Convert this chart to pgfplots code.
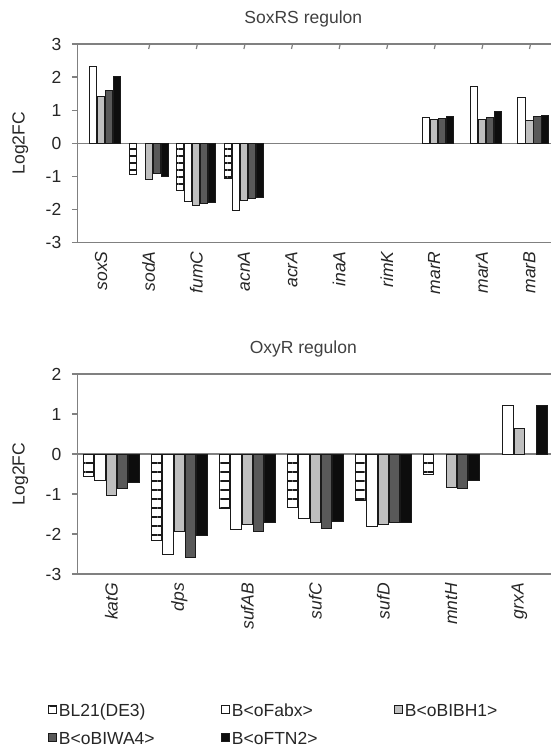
\documentclass[border=0pt]{standalone}
\usepackage{fontspec}
\setmainfont{Liberation Sans}
\usepackage{pgfplots}
\pgfplotsset{compat=1.18}
\usetikzlibrary{patterns.meta}
\definecolor{axisgray}{HTML}{808080}
\definecolor{lgray}{HTML}{BFBFBF}
\definecolor{dgray}{HTML}{595959}
\definecolor{blk}{HTML}{0D0D0D}
\definecolor{edge}{HTML}{1A1A1A}
\definecolor{txt}{HTML}{262626}
\definecolor{ttl}{HTML}{404040}
\newcommand\F{\fontsize{17.5bp}{21bp}\selectfont}
\pgfplotsset{
 mystyle/.style={
  scale only axis, width=476bp,
  ybar, bar width=0.15,
  xmin=-0.5,
  axis x line=box, axis y line*=left,
  axis line style={axisgray, line width=1.2bp},
  xtick style={draw=none},
  xticklabel pos=lower,
  ytick style={axisgray, line width=1.2bp},
  tick align=outside, major tick length=5.5bp,
  ticklabel style={font=\F, text=txt},
  xticklabel style={rotate=90, anchor=east, font=\F\itshape},
  yticklabel style={xshift=-7bp},
  extra y ticks={0}, extra y tick labels={},
  extra y tick style={grid=major, major grid style={axisgray, line width=1.2bp}, major tick length=0pt},
  every axis y label/.style={at={(rel axis cs:0,0.5)}, xshift=-57bp, rotate=90, anchor=center, font=\F, text=txt},
  every axis title/.style={at={(rel axis cs:0.5,1)}, yshift=25bp, xshift=-12bp, anchor=center, font=\F, text=ttl},
  ylabel={Log2FC},
  legend image code/.code={\draw[##1] (0bp,-1.5bp) rectangle (8bp,6.5bp);},
 },
 sBL/.style={draw=edge, line width=1bp, pattern={Lines[angle=0,distance=#1,line width=1.2bp]}, pattern color=edge, bar shift=-0.334},
 sFA/.style={draw=edge, line width=1bp, fill=white, bar shift=-0.167},
 sBI/.style={draw=edge, line width=1bp, fill=lgray, bar shift=0},
 sWA/.style={draw=edge, line width=1bp, fill=dgray, bar shift=0.167},
 sFT/.style={draw=edge, line width=1bp, fill=blk, bar shift=0.334},
}
\begin{document}
\begin{tikzpicture}
% ---------- SoxRS regulon ----------
\begin{axis}[mystyle,
  at={(77.3bp,508.5bp)}, anchor=south west,
  height=198.5bp, xmax=9.5,
  ymin=-3, ymax=3, ytick={-3,-2,-1,0,1,2,3},
  yticklabels={-3,-2,-1,0,1,2,3},
  xtick={0,...,9},
  xticklabels={soxS,sodA,fumC,acnA,acrA,inaA,rimK,marR,marA,marB},
  title={SoxRS regulon}]
\addplot[sBL=7bp] coordinates {(1,-0.95) (2,-1.42) (3,-1.06)};
\addplot[sFA] coordinates {(0,2.33) (2,-1.75) (3,-2.03) (7,0.79) (8,1.73) (9,1.39)};
\addplot[sBI] coordinates {(0,1.41) (1,-1.10) (2,-1.87) (3,-1.74) (7,0.72) (8,0.73) (9,0.69)};
\addplot[sWA] coordinates {(0,1.60) (1,-0.90) (2,-1.82) (3,-1.68) (7,0.74) (8,0.79) (9,0.80)};
\addplot[sFT] coordinates {(0,2.01) (1,-1.00) (2,-1.80) (3,-1.64) (7,0.80) (8,0.95) (9,0.83)};
\pgfplotsinvokeforeach{0.5,1.5,...,8.5}{\draw[axisgray,line width=1.2bp] (axis cs:#1,0) ++(0,-5bp) -- ++(0,10bp);}
\end{axis}
% ---------- OxyR regulon ----------
\begin{axis}[mystyle,
  at={(77.3bp,177bp)}, anchor=south west,
  height=200bp, xmax=6.5,
  ymin=-3, ymax=2, ytick={-3,-2,-1,0,1,2},
  yticklabels={-3,-2,-1,0,1,2},
  xtick={0,...,6},
  xticklabels={katG,dps,sufAB,sufC,sufD,mntH,grxA},
  title={OxyR regulon},
  legend columns=3,
  legend style={at={(-0.0616,-0.6475)}, anchor=north west, draw=none, fill=none,
    inner sep=0pt, outer sep=0pt, row sep=10.5bp,
    nodes={inner sep=0pt, text height=13bp, text depth=4.5bp, font=\F, text=txt},
    /tikz/every odd column/.append style={column sep=2bp}}]
\addplot[sBL=9bp] coordinates {(0,-0.55) (1,-2.15) (2,-1.36) (3,-1.34) (4,-1.15) (5,-0.50)};
\addlegendentry{\makebox[162bp][l]{BL21(DE3)}}
\addplot[sFA] coordinates {(0,-0.65) (1,-2.52) (2,-1.89) (3,-1.60) (4,-1.82) (6,1.22)};
\addlegendentry{\makebox[162bp][l]{B<oFabx>}}
\addplot[sBI] coordinates {(0,-1.03) (1,-1.94) (2,-1.76) (3,-1.72) (4,-1.76) (5,-0.83) (6,0.63)};
\addlegendentry{\makebox[162bp][l]{B<oBIBH1>}}
\addplot[sWA] coordinates {(0,-0.86) (1,-2.59) (2,-1.93) (3,-1.85) (4,-1.70) (5,-0.85)};
\addlegendentry{\makebox[162bp][l]{B<oBIWA4>}}
\addplot[sFT] coordinates {(0,-0.72) (1,-2.04) (2,-1.72) (3,-1.68) (4,-1.72) (5,-0.67) (6,1.22)};
\addlegendentry{\makebox[162bp][l]{B<oFTN2>}}
\pgfplotsinvokeforeach{0.5,1.5,...,5.5}{\draw[axisgray,line width=1.2bp] (axis cs:#1,0) ++(0,-6bp) -- ++(0,12bp);}
\end{axis}
\pgfresetboundingbox
\useasboundingbox (0,0) rectangle (551bp,751bp);
\end{tikzpicture}
\end{document}
